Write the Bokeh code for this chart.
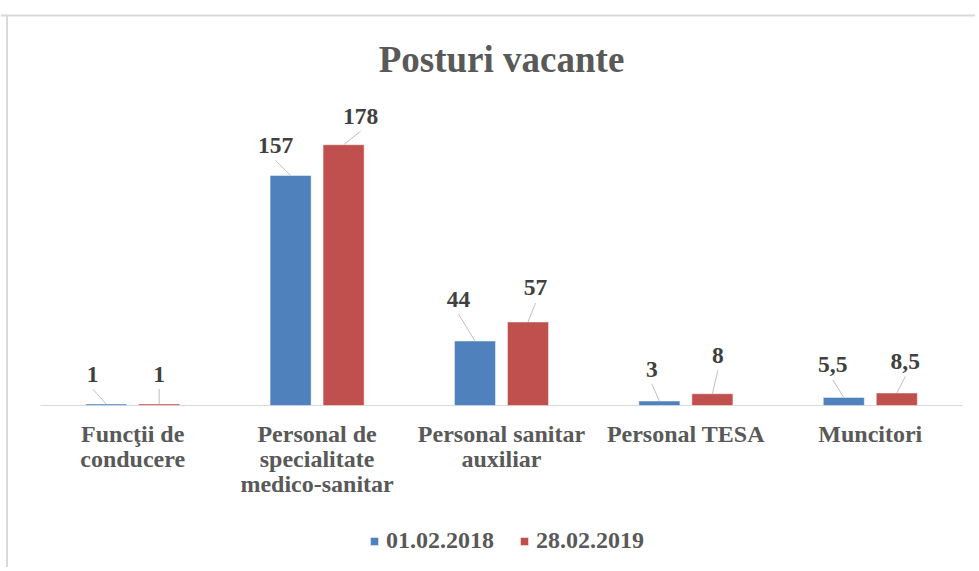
from bokeh.plotting import figure
from bokeh.models import (ColumnDataSource, Legend, LegendItem,
                          Range1d, Span, Label)
from bokeh.core.properties import value
from bokeh.embed import file_html
from bokeh.resources import INLINE
import numpy as np

# ---- data ----
categories = ["Funcţii de\nconducere",
              "Personal de\nspecialitate\nmedico-sanitar",
              "Personal sanitar\nauxiliar",
              "Personal TESA",
              "Muncitori"]
series_names = ["01.02.2018", "28.02.2019"]
values_2018 = [1, 157, 44, 3, 5.5]
values_2019 = [1, 178, 57, 8, 8.5]
title_text = "Posturi vacante"

# ---- layout / style constants (pixels) ----
BLUE = "#4F81BD"
RED = "#C0504D"
FONT = "Liberation Serif"
W, H = 975, 567            # figure size (frame covers it all)
PX_X = 184.4               # pixels per category
PX_Y = 1.465               # pixels per unit of value
PLOT_LEFT = 40             # where the category axis starts (px from figure left)
BASE_Y = 405               # baseline (px from figure top)
BAR_W = 0.2225
OFFSET = 0.1437
# label offsets in pixels (right, up) from bar top
off_2018 = [(-13.5, 30), (-15, 30), (-16.5, 42), (-7.5, 32), (-11, 32.5)]
off_2019 = [(0, 30), (17, 28.5), (7.5, 34), (5.5, 38.5), (8.5, 31.5)]

n = len(categories)
x0 = -0.5 - PLOT_LEFT / PX_X
y1 = BASE_Y / PX_Y
x_range = Range1d(x0, x0 + W / PX_X)
y_range = Range1d(y1 - H / PX_Y, y1)

def py(page_y):
    """data y of a pixel row (px from figure top)"""
    return (BASE_Y - page_y) / PX_Y

def px(page_x):
    """data x of a pixel column (px from figure left)"""
    return x0 + page_x / PX_X

def fmt(v):
    return ("%g" % v).replace(".", ",")

xs = np.arange(n, dtype=float)

p = figure(width=W, height=H, output_backend="svg", toolbar_location=None,
           x_range=x_range, y_range=y_range,
           x_axis_location=None, y_axis_location=None,
           min_border=0, min_border_left=0, min_border_right=0,
           min_border_top=0, min_border_bottom=0)
p.outline_line_color = None
p.xgrid.visible = False
p.ygrid.visible = False
p.background_fill_color = "white"
p.border_fill_color = "white"

# chart-area border (top and left sides)
p.add_layout(Span(location=py(15), dimension="width",
                  line_color="#d9d9d9", line_width=2))
p.segment(x0=[px(6.5)], y0=[py(15)], x1=[px(6.5)], y1=[py(H)],
          line_color="#d9d9d9", line_width=2)

# category baseline
p.segment(x0=[-0.5], y0=[0], x1=[n - 0.5], y1=[0],
          line_color="#d9d9d9", line_width=1)

def make_source(vals, offs, sign):
    xc = xs + sign * OFFSET
    dx = np.array([o[0] for o in offs])
    dy = np.array([o[1] for o in offs])
    v = np.array(vals, dtype=float)
    return ColumnDataSource(dict(
        x=xc, top=v, label=[fmt(a) for a in vals],
        lx=xc + dx / PX_X, ly=v + dy / PX_Y,
        lx0=xc + dx / PX_X, ly0=v + (dy - 15) / PX_Y,
    ))

src18 = make_source(values_2018, off_2018, -1)
src19 = make_source(values_2019, off_2019, +1)

r18 = p.vbar(x="x", top="top", bottom=0, width=BAR_W, source=src18,
             fill_color=BLUE, line_color="white", line_alpha=0.45,
             line_width=1)
r19 = p.vbar(x="x", top="top", bottom=0, width=BAR_W, source=src19,
             fill_color=RED, line_color="white", line_alpha=0.45,
             line_width=1)

for src in (src18, src19):
    p.segment(x0="lx0", y0="ly0", x1="x", y1="top", source=src,
              line_color="#bfbfbf", line_width=1)
    p.text(x="lx", y="ly", text="label", source=src, text_align="center",
           text_baseline="middle", text_font=value(FONT),
           text_font_style="bold", text_font_size="23.5px",
           text_color="#404040")

# category labels
p.text(x=xs, y=[py(420)] * n, text=categories, text_align="center",
       text_baseline="top", text_font=value(FONT), text_font_style="bold",
       text_font_size="24px", text_color="#595959", text_line_height=0.98)

# title
p.add_layout(Label(x=(n - 1) / 2, y=py(58.5), text=title_text,
                   text_align="center", text_baseline="middle",
                   text_font=FONT, text_font_style="bold",
                   text_font_size="37px", text_color="#595959"))

legend = Legend(items=[LegendItem(label=series_names[0], renderers=[r18]),
                       LegendItem(label=series_names[1], renderers=[r19])],
                orientation="horizontal", location=(369, 13),
                glyph_width=10, glyph_height=10, label_standoff=7,
                spacing=25, padding=0, margin=0, border_line_color=None,
                background_fill_alpha=0, label_height=24,
                label_text_font=FONT, label_text_font_style="bold",
                label_text_font_size="24px", label_text_color="#595959")
p.add_layout(legend)

open("out.html", "w").write(file_html(p, INLINE))
